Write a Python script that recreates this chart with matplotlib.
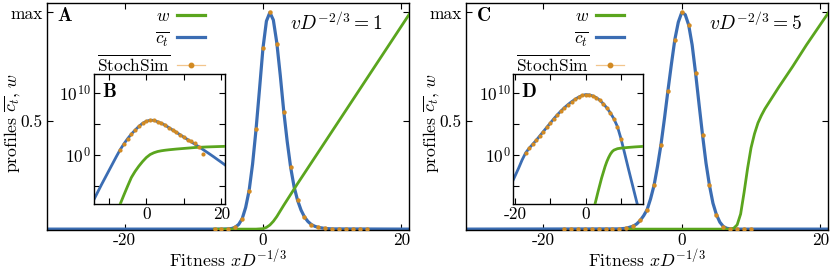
import matplotlib.pyplot as plt
import numpy as np
from matplotlib.lines import Line2D
from matplotlib.ticker import NullLocator

plt.rcParams['font.family'] = 'serif'
plt.rcParams['font.serif'] = ['cmr10']
plt.rcParams['mathtext.fontset'] = 'cm'
plt.rcParams['axes.unicode_minus'] = False
plt.rcParams['font.size'] = 12.5

GREEN = '#5aa51e'
BLUE = '#3b6db3'
ORANGE = '#d28a22'

# ---- panel A (vD^-2/3 = 1), linear profiles
a_x = [-31, -6, -5, -4.5, -4, -3.5, -3, -2.5, -2, -1.5, -1, -0.5, 0, 0.5, 1, 1.5,
       2, 2.5, 3, 3.5, 4, 4.5, 5, 5.5, 6, 6.5, 7, 7.5, 8, 9, 10, 21]
a_c = [0, 0, 0.001, 0.003, 0.009, 0.022, 0.048, 0.10, 0.178, 0.30, 0.46, 0.645, 0.835, 0.96, 1.0, 0.965,
       0.86, 0.71, 0.545, 0.405, 0.285, 0.195, 0.133, 0.088, 0.056, 0.035, 0.021, 0.013, 0.008, 0.003, 0.001, 0]
a_w_x = [-7, -1, 0, 0.5, 1, 1.5, 2, 2.5, 3, 3.5, 4, 4.5, 5, 21.2]
a_w = [0, 0, 0.002, 0.008, 0.019, 0.036, 0.058, 0.084, 0.11, 0.135, 0.16, 0.185, 0.21, 0.995]
a_dot_x = list(range(-7, 16))
a_dot = [0, 0, 0.001, 0.008, 0.048, 0.178, 0.46, 0.835, 1.0, 0.856, 0.54, 0.285, 0.133, 0.056,
         0.021, 0.008, 0.003, 0.001, 0, 0, 0, 0, 0]

# ---- inset B, log10 of profiles
b_x = list(range(-15, 22))
b_c = [-8.5, -7.3, -6.1, -4.9, -3.75, -2.6, -1.45, -0.3, 0.8, 1.75, 2.6, 3.35, 4.0, 4.6, 5.1, 5.43,
       5.6, 5.58, 5.35, 5.1, 4.8, 4.4, 4.02, 3.63, 3.24, 2.85, 2.46, 2.07, 1.68, 1.29, 0.88, 0.47,
       0.06, -0.36, -0.8, -1.23, -1.67]
b_w_x = [-7.1, -6, -5, -4, -3, -2, -1, 0, 1, 2, 3, 4, 5, 6, 8, 10, 13, 16, 21]
b_w = [-8.2, -6.55, -5.1, -3.7, -2.7, -1.85, -1.1, -0.45, 0.03, 0.32, 0.52, 0.64, 0.73, 0.8,
       0.92, 1.02, 1.17, 1.26, 1.36]
b_dot_x = list(range(-7, 16))
b_dot = [0.8, 1.75, 2.6, 3.35, 4.0, 4.6, 5.1, 5.43, 5.6, 5.58, 5.35, 5.1, 4.8, 4.4, 4.02, 3.63,
         3.24, 2.85, 2.46, 2.25, 1.85, 1.3, 0.06]

# ---- panel C (vD^-2/3 = 5), linear profiles
c_x = [-31, -9, -8, -7, -6.5, -6, -5.5, -5, -4.5, -4, -3.5, -3, -2.5, -2, -1.5, -1, -0.5, 0,
       0.5, 1, 1.5, 2, 2.5, 3, 3.5, 4, 4.5, 5, 5.5, 6, 6.5, 7, 8, 21]
c_c = [0, 0.001, 0.004, 0.014, 0.024, 0.04, 0.062, 0.09, 0.14, 0.202, 0.29, 0.39, 0.51, 0.638,
       0.76, 0.875, 0.955, 1.0, 0.99, 0.942, 0.85, 0.719, 0.575, 0.434, 0.305, 0.202, 0.12, 0.067,
       0.032, 0.012, 0.004, 0.001, 0, 0]
c_w_x = [-7.7, 7.0, 7.5, 8.0, 8.5, 9.0, 9.5, 10.0, 10.5, 11, 11.5, 12, 13, 14, 16, 18, 21.2]
c_w = [0, 0, 0.004, 0.02, 0.07, 0.17, 0.28, 0.375, 0.44, 0.49, 0.525, 0.555, 0.605, 0.655,
       0.75, 0.85, 1.0]
c_dot_x = list(range(-17, 11))
c_dot = [0, 0, 0, 0, 0, 0, 0, 0, 0.001, 0.004, 0.014, 0.04, 0.09, 0.202, 0.39, 0.638, 0.875, 1.0,
         0.942, 0.719, 0.434, 0.202, 0.067, 0.012, 0.001, 0, 0, 0]

# ---- inset D, log10 of profiles
d_x = list(range(-21, 14)) + [14.6]
d_c = [-4.7, -3.45, -2.2, -0.85, 0.3, 1.05, 1.7, 2.35, 3.05, 3.75, 4.45, 5.15, 5.85, 6.5, 7.1,
       7.65, 8.15, 8.6, 9.0, 9.35, 9.62, 9.76, 9.72, 9.55, 9.27, 8.85, 8.27, 7.6, 6.78, 5.82,
       4.55, 2.6, 0.3, -2.05, -4.35, -8.0]
d_w_x = [2.6, 3.5, 4.5, 5.5, 6.0, 6.5, 7.0, 7.5, 8.0, 9.0, 10.0, 12.0, 14.0, 16.5]
d_w = [-8.1, -6.0, -3.8, -1.9, -1.1, -0.45, 0.1, 0.5, 0.75, 0.98, 1.07, 1.18, 1.27, 1.36]
d_dot_x = list(range(-17, 11))
d_dot = [0.3, 1.05, 1.7, 2.35, 3.05, 3.75, 4.45, 5.15, 5.85, 6.5, 7.1, 7.65, 8.15, 8.6, 9.0,
         9.35, 9.62, 9.76, 9.72, 9.55, 9.27, 8.85, 8.27, 7.6, 6.78, 5.82, 4.55, 2.6]

fig = plt.figure(figsize=(8.3, 2.69), dpi=100)


def draw_main(rect, cx, cc, wx, w, dx, dots, letter, vtext):
    ax = fig.add_axes(rect)
    ax.plot(cx, cc, color=BLUE, lw=2.3, zorder=2)
    ax.plot(wx, w, color=GREEN, lw=2.0, zorder=3)
    ax.plot(dx, dots, 'o', color=ORANGE, ms=3.2, mew=0, zorder=4)
    ax.set_xlim(-31.2, 21.1)
    ax.set_ylim(-0.004, 1.045)
    ax.set_xticks([-20, 0, 20])
    ax.set_xticklabels(['-20', '0', '20'])
    ax.set_yticks([0.5, 1.0])
    ax.set_yticklabels(['0.5', 'max'])
    ax.tick_params(direction='in', top=True, right=True, length=4, width=0.8, pad=3,
                   labelsize=12.5)
    ax.tick_params(axis='x', pad=2)
    for s in ax.spines.values():
        s.set_linewidth(1.0)
    ax.set_xlabel(r'Fitness $xD^{-1/3}$', fontsize=12.8)
    ax.xaxis.set_label_coords(0.5, -0.078)
    ax.set_ylabel(r'profiles $\overline{c_t}$, $w$', fontsize=12.8)
    ax.yaxis.set_label_coords(-0.068, 0.47)
    ax.text(0.03, 0.94, letter, transform=ax.transAxes, family='cmb10', fontsize=14,
            va='center', ha='left')
    ax.text(0.672, 0.91, vtext, transform=ax.transAxes, fontsize=14, va='center')
    handles = [Line2D([], [], color=GREEN, lw=2.3),
               Line2D([], [], color=BLUE, lw=2.3),
               Line2D([], [], color='#f2c58c', lw=0.9, marker='o', ms=3.2,
                      markerfacecolor=ORANGE, markeredgecolor=ORANGE)]
    labels = [r'$w$', r'$\overline{c_t}$', r'$\overline{\mathrm{StochSim}}$']
    ax.legend(handles, labels, loc='upper right', bbox_to_anchor=(0.437, 0.975),
              frameon=False, markerfirst=False, handlelength=1.6, handletextpad=0.4,
              labelspacing=0.3, borderpad=0, borderaxespad=0, fontsize=12.5)
    return ax


def draw_inset(rect, cx, cc, wx, w, dx, dots, letter, xlim, xticks, xlabels):
    ax = fig.add_axes(rect)
    ax.set_yscale('log')
    ax.plot(cx, 10.0 ** np.array(cc), color=BLUE, lw=2.0, zorder=2)
    ax.plot(wx, 10.0 ** np.array(w), color=GREEN, lw=2.0, zorder=3)
    ax.plot(dx, 10.0 ** np.array(dots), 'o', color=ORANGE, ms=3.0, mew=0, zorder=4)
    ax.set_xlim(*xlim)
    ax.set_ylim(1e-8, 10 ** 13.1)
    ax.set_xticks(xticks)
    ax.set_xticklabels(xlabels)
    ax.set_yticks([1e-5, 1, 1e5, 1e10])
    ax.set_yticklabels(['', r'$10^0$', '', r'$10^{10}$'])
    ax.yaxis.set_minor_locator(NullLocator())
    ax.tick_params(direction='in', top=True, right=True, length=4, width=0.8, pad=2,
                   labelsize=12.5)
    for s in ax.spines.values():
        s.set_linewidth(1.0)
    ax.text(0.06, 0.86, letter, transform=ax.transAxes, family='cmb10', fontsize=14,
            va='center', ha='left')
    return ax


draw_main([0.0566, 0.145, 0.4362, 0.845], a_x, a_c, a_w_x, a_w, a_dot_x, a_dot,
          'A', r'$vD^{-2/3} = 1$')
draw_inset([0.1133, 0.2416, 0.1575, 0.4833], b_x, b_c, b_w_x, b_w, b_dot_x, b_dot,
           'B', (-13.95, 20.9), [-10, 0, 10, 20], ['', '0', '', '20'])

draw_main([0.561, 0.145, 0.4365, 0.845], c_x, c_c, c_w_x, c_w, c_dot_x, c_dot,
          'C', r'$vD^{-2/3} = 5$')
draw_inset([0.6184, 0.2416, 0.1566, 0.4833], d_x, d_c, d_w_x, d_w, d_dot_x, d_dot,
           'D', (-20.5, 16.3), [-20, -10, 0, 10], ['-20', '', '0', ''])

fig.savefig('out.png', dpi=100)
